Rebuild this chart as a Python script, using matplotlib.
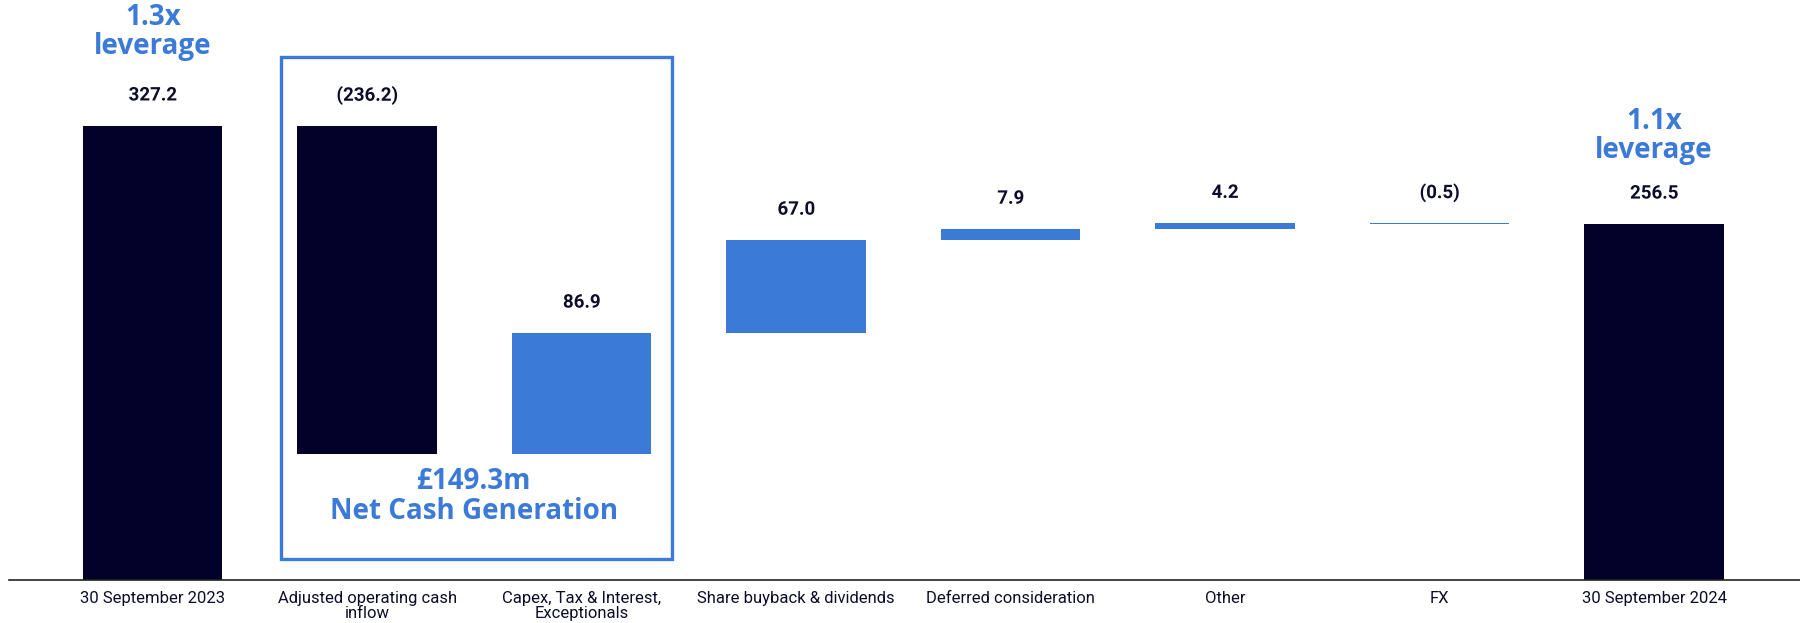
import matplotlib
matplotlib.use('Agg')
import matplotlib.pyplot as plt
import matplotlib.patheffects as pe
from matplotlib.patches import Rectangle

# data
categories = ['30 September 2023', 'Adjusted operating cash\ninflow', 'Capex, Tax & Interest,\nExceptionals',
              'Share buyback & dividends', 'Deferred consideration', 'Other', 'FX', '30 September 2024']
start_value = 327.2
changes = [-236.2, 86.9, 67.0, 7.9, 4.2, -0.5]
end_value = 256.5
dark_steps = [0]  # indices of changes drawn in dark colour

dark = '#03002a'
blue = '#3c7ad8'
text_col = '#0d0d2b'

plt.rcParams['font.family'] = ['Roboto', 'DejaVu Sans']

fig = plt.figure(figsize=(18, 6.23), dpi=100)
ax = fig.add_axes([0.005, 0.069, 0.995, 0.931])

# bars
bottoms, heights, colors, labels, tops = [], [], [], [], []
bottoms.append(0); heights.append(start_value); colors.append(dark)
labels.append(f'{start_value:.1f}'); tops.append(start_value)
running = start_value
for i, c in enumerate(changes):
    lo = min(running, running + c)
    bottoms.append(lo); heights.append(abs(c))
    colors.append(dark if i in dark_steps else blue)
    labels.append(f'({abs(c):.1f})' if c < 0 else f'{c:.1f}')
    tops.append(max(running, running + c))
    running += c
bottoms.append(0); heights.append(end_value); colors.append(dark)
labels.append(f'{end_value:.1f}'); tops.append(end_value)

x = list(range(len(categories)))
ax.bar(x, heights, bottom=bottoms, width=0.65, color=colors, linewidth=0)

outline = [pe.withStroke(linewidth=4, foreground='white')]
for xi, top, lab in zip(x, tops, labels):
    ax.text(xi, top + 22, lab, ha='center', va='center', fontsize=13.5, fontweight='bold',
            color=text_col, path_effects=outline)

# leverage annotations
big_font = ['Open Sans', 'DejaVu Sans']
ax.text(0, 395, '1.3x\nleverage', ha='center', va='center', fontsize=20, fontweight='bold',
        color=blue, family=big_font, linespacing=1.0)
ax.text(7, 320, '1.1x\nleverage', ha='center', va='center', fontsize=20, fontweight='bold',
        color=blue, family=big_font, linespacing=1.0)

# net cash generation box
ax.add_patch(Rectangle((0.6, 15), 1.82, 362, fill=False, edgecolor=blue, linewidth=2.4, zorder=1))
ax.text(1.5, 60, '£149.3m\nNet Cash Generation', ha='center', va='center', fontsize=20,
        fontweight='bold', color=blue, family=big_font, linespacing=1.05)

ax.set_xlim(-0.67, 7.68)
ax.set_ylim(0, 418)
ax.set_xticks(x)
ax.set_xticklabels(categories, fontsize=12, color=text_col, linespacing=1.0)
ax.tick_params(axis='x', length=0, pad=8)
ax.set_yticks([])
for s in ['top', 'right', 'left']:
    ax.spines[s].set_visible(False)
ax.spines['bottom'].set_color('#222222')
ax.spines['bottom'].set_linewidth(1.2)

fig.savefig('out.png', dpi=100)
